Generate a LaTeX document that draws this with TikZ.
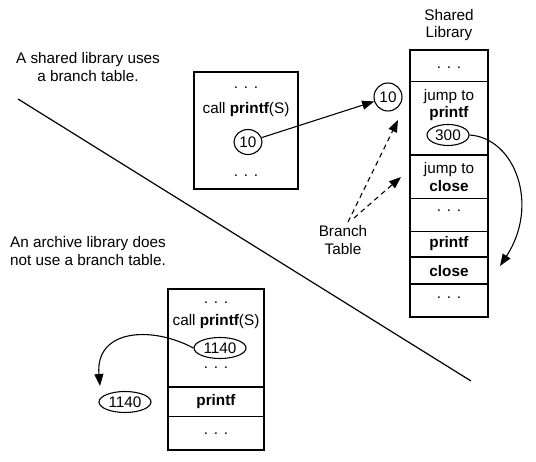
\documentclass[tikz,border=0pt]{standalone}
\usepackage{fontspec}
\setmainfont{Liberation Sans}
\usetikzlibrary{arrows.meta,shapes.geometric}
\begin{document}
\begin{tikzpicture}[x=1pt,y=-1pt,
  lbl/.style={font=\fontsize{15.3}{17.5}\selectfont, inner sep=0pt, align=center},
  frame/.style={draw, line width=1.6pt},
  septhin/.style={line width=0.9pt},
  septhick/.style={line width=2.6pt},
  oval/.style={draw, ellipse, line width=1.1pt, inner sep=0pt, font=\fontsize{15.3}{17.5}\selectfont},
  arr/.style={-{Triangle[length=12pt,width=9pt]}, line width=1.1pt},
  darr/.style={arr, dash pattern=on 5pt off 4pt},
]
\useasboundingbox (0,0) rectangle (536,462);

% divider line
\coordinate (d1) at (18,99);
\coordinate (d2) at (471,381);
\draw[line width=1.2pt] (d1) -- (d2);

% side texts
\node[lbl] (t1) at (88,67) {A shared library uses\\a branch table.};
\node[lbl] (t2) at (88,251) {An archive library does\\not use a branch table.};

% top program box
\draw[frame] (194,72) rectangle (298,189);
\node[lbl] (p1) at (246,88) {. . .};
\node[lbl] (p2) at (246,110) {call \textbf{printf}(S)};
\node[oval, minimum width=28pt, minimum height=25pt] (c10a) at (248,142) {10};
\node[lbl] (p3) at (246,176) {. . .};

% shared library
\node[lbl] (sl) at (449,25) {Shared\\Library};
\draw[frame] (410,50) rectangle (488,317);
\draw[septhin] (410,81) -- (488,81);
\draw[septhick] (410,155) -- (488,155);
\draw[septhin] (410,198) -- (488,198);
\draw[septhin] (410,231) -- (488,231);
\draw[septhick] (410,257) -- (488,257);
\draw[septhick] (410,284) -- (488,284);
\node[lbl] (s1) at (449,68) {. . .};
\node[lbl] (s2) at (449,105) {jump to\\\textbf{printf}};
\node[oval, minimum width=42pt, minimum height=21pt] (c300) at (448,135) {300};
\node[lbl] (s3) at (449,177) {jump to\\\textbf{close}};
\node[lbl] (s4) at (449,211) {. . .};
\node[lbl] (s5) at (449,244) {\textbf{printf}};
\node[lbl] (s6) at (449,271) {\textbf{close}};
\node[lbl] (s7) at (449,298) {. . .};

\node[oval, minimum width=28pt, minimum height=28pt] (c10b) at (388,97) {10};
\draw[arr] (c10a) -- (c10b);

\coordinate (tip300) at (500,266);
\draw[arr] (c300.east) .. controls (515,138) and (540,205) .. (tip300);

% branch table
\node[lbl] (bt) at (343,240) {Branch\\Table};
\coordinate (bt1) at (398,120);
\coordinate (bt2) at (401,177);
\draw[darr] (348,222) -- (bt1);
\draw[darr] (354,218) -- (bt2);

% archive box
\draw[frame] (168,289) rectangle (264,450);
\draw[septhick] (168,387) -- (264,387);
\draw[septhin] (168,416) -- (264,416);
\node[lbl] (a1) at (216,303) {. . .};
\node[lbl] (a2) at (216,322) {call \textbf{printf}(S)};
\node[oval, minimum width=52pt, minimum height=21pt] (e1a) at (220,348) {1140};
\node[lbl] (a3) at (216,368) {. . .};
\node[lbl] (a4) at (216,402) {\textbf{printf}};
\node[lbl] (a5) at (216,434) {. . .};

\node[oval, minimum width=52pt, minimum height=21pt] (e1b) at (125,402) {1140};
\coordinate (tip1140) at (100,386);
\draw[arr] (e1a.west) .. controls (150,325) and (95,330) .. (tip1140);
\end{tikzpicture}
\end{document}
